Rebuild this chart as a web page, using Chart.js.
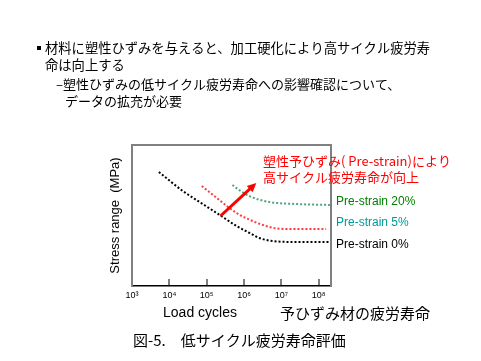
<!DOCTYPE html>
<html>
<head>
<meta charset="utf-8">
<script src="https://cdn.jsdelivr.net/npm/chart.js@4.4.0/dist/chart.umd.min.js"></script>
<style>
  body { margin: 0; background: #fff; }
  canvas { display: block; }
</style>
</head>
<body>
<canvas id="c" width="481" height="361"></canvas>
<script>
// x = log10(load cycles), y = stress range (relative, no scale shown)
var tickExps = [3, 4, 5, 6, 7, 8];
var tickLabels = ['10\u00b3', '10\u2074', '10\u2075', '10\u2076', '10\u2077', '10\u2078'];

var logCycles0 = [3.72, 4.36, 4.81, 5.35, 5.80, 6.15, 6.41, 6.76, 7.48, 8.3];
var stress0    = [114, 95, 84, 71, 60, 53, 48, 45, 44, 44];

var logCycles5 = [4.87, 5.27, 5.80, 6.23, 6.68, 7.13, 8.2];
var stress5    = [100, 88, 73, 65, 59, 57, 57];

var logCycles20 = [5.69, 5.83, 6.20, 6.68, 7.40, 8.3];
var stress20    = [101, 97, 89, 84, 82, 81];

// improvement arrow: [logCycles, stress]
var arrowFrom = [5.37, 70];
var arrowTo   = [6.33, 103];

var seriesNames  = ['Pre-strain 20%', 'Pre-strain 5%', 'Pre-strain 0%'];
var seriesLabelY = [84, 63, 41];

var JP = '"Noto Sans CJK JP", sans-serif';
var LAT = '"Liberation Sans", "Noto Sans CJK JP", sans-serif';

function pts(xs, ys){
    return xs.map(function(x, i){ return {x: x, y: ys[i]}; });
}

function dotted(label, xs, ys, color){
    return {
        label: label,
        data: pts(xs, ys),
        borderColor: color,
        borderWidth: 2,
        borderDash: [2, 2],
        borderCapStyle: 'butt',
        pointRadius: 0,
        cubicInterpolationMode: 'monotone',
        fill: false
    };
}

var extras = {
    id: 'extras',
    beforeDraw: function(chart){
        var ctx = chart.ctx;
        ctx.save();
        ctx.fillStyle = '#fff';
        ctx.fillRect(0, 0, chart.width, chart.height);
        ctx.restore();
    },
    afterDraw: function(chart){
        var ctx = chart.ctx;
        var a = chart.chartArea;
        var xs = chart.scales.x, ys = chart.scales.y;
        ctx.save();

        // top and right frame
        ctx.strokeStyle = '#808080';
        ctx.lineWidth = 2;
        ctx.beginPath();
        ctx.moveTo(a.left, a.top);
        ctx.lineTo(a.right, a.top);
        ctx.lineTo(a.right, a.bottom);
        ctx.stroke();

        // inward tick marks
        tickExps.slice(1).forEach(function(e){
            var px = Math.round(xs.getPixelForValue(e));
            ctx.beginPath();
            ctx.moveTo(px, a.bottom - 1);
            ctx.lineTo(px, a.bottom - 7);
            ctx.stroke();
        });

        // arrow
        var x1 = xs.getPixelForValue(arrowFrom[0]), y1 = ys.getPixelForValue(arrowFrom[1]);
        var x2 = xs.getPixelForValue(arrowTo[0]), y2 = ys.getPixelForValue(arrowTo[1]);
        var ang = Math.atan2(y2 - y1, x2 - x1);
        var head = 10;
        ctx.strokeStyle = '#ff0000';
        ctx.fillStyle = '#ff0000';
        ctx.lineWidth = 3;
        ctx.beginPath();
        ctx.moveTo(x1, y1);
        ctx.lineTo(x2 - Math.cos(ang) * head * 0.8, y2 - Math.sin(ang) * head * 0.8);
        ctx.stroke();
        ctx.beginPath();
        ctx.moveTo(x2, y2);
        ctx.lineTo(x2 - head * Math.cos(ang - 0.45), y2 - head * Math.sin(ang - 0.45));
        ctx.lineTo(x2 - head * Math.cos(ang + 0.45), y2 - head * Math.sin(ang + 0.45));
        ctx.closePath();
        ctx.fill();

        // series labels
        var labelColors = ['#008000', '#009999', '#000000'];
        ctx.textBaseline = 'middle';
        ctx.textAlign = 'left';
        ctx.font = '12px ' + LAT;
        seriesNames.forEach(function(n, i){
            ctx.fillStyle = labelColors[i];
            ctx.fillText(n, 336, ys.getPixelForValue(seriesLabelY[i]));
        });

        // annotation
        ctx.fillStyle = '#ff0000';
        ctx.font = '13px ' + JP;
        ctx.fillText('塑性予ひずみ( Pre-strain)により', 263, 161);
        ctx.fillText('高サイクル疲労寿命が向上', 263, 177);

        // header bullets
        ctx.fillStyle = '#000';
        ctx.fillRect(37, 46, 4, 4);
        ctx.font = '13.3px ' + JP;
        ctx.fillText('材料に塑性ひずみを与えると、加工硬化により高サイクル疲労寿', 45, 48);
        ctx.fillText('命は向上する', 45, 65);
        ctx.font = '13px ' + JP;
        ctx.fillText('–塑性ひずみの低サイクル疲労寿命への影響確認について、', 56, 84);
        ctx.fillText('データの拡充が必要', 65, 101);

        // x axis captions
        ctx.font = '14px ' + LAT;
        ctx.textAlign = 'center';
        ctx.fillText('Load cycles', 200, 313);
        ctx.textAlign = 'left';
        ctx.font = '15px ' + JP;
        ctx.fillText('予ひずみ材の疲労寿命', 280, 313);

        // figure caption
        ctx.font = '15px ' + JP;
        ctx.fillText('図-5.\u3000低サイクル疲労寿命評価', 133, 340);

        ctx.restore();
    }
};

new Chart(document.getElementById('c').getContext('2d'), {
    type: 'line',
    data: {
        datasets: [
            dotted('Pre-strain 20%', logCycles20, stress20, '#4ca67a'),
            dotted('Pre-strain 5%', logCycles5, stress5, '#ff3a3a'),
            dotted('Pre-strain 0%', logCycles0, stress0, '#000000')
        ]
    },
    options: {
        responsive: false,
        animation: false,
        events: [],
        layout: { padding: { left: 102, top: 145, right: 150, bottom: 55 } },
        plugins: { legend: { display: false }, tooltip: { enabled: false } },
        scales: {
            x: {
                type: 'linear',
                min: 3,
                max: 8.33,
                afterFit: function(s){ s.height = 20; },
                afterBuildTicks: function(s){
                    s.ticks = tickExps.map(function(v){ return {value: v}; });
                },
                ticks: {
                    autoSkip: false,
                    maxRotation: 0,
                    padding: 4,
                    color: '#000',
                    font: { family: LAT, size: 9 },
                    callback: function(v){
                        var i = tickExps.indexOf(v);
                        return i >= 0 ? tickLabels[i] : '';
                    }
                },
                grid: { display: false, drawTicks: false },
                border: { display: true, color: '#000', width: 1.5 }
            },
            y: {
                type: 'linear',
                min: 0,
                max: 141,
                afterFit: function(s){ s.width = 30; },
                ticks: { display: false },
                grid: { display: false, drawTicks: false },
                border: { display: true, color: '#808080', width: 2 },
                title: {
                    display: true,
                    text: 'Stress range  (MPa)',
                    color: '#000',
                    font: { family: LAT, size: 13 },
                    padding: { top: 6, bottom: 0 }
                }
            }
        }
    },
    plugins: [extras]
});
</script>
</body>
</html>
